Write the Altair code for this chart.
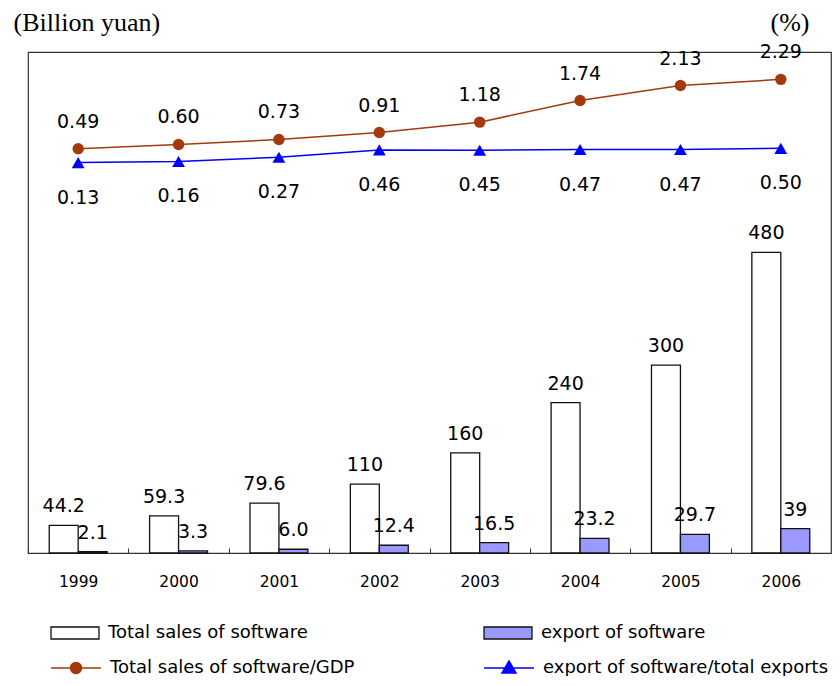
import altair as alt
import pandas as pd

years = ["1999", "2000", "2001", "2002", "2003", "2004", "2005", "2006"]
total_sales = [44.2, 59.3, 79.6, 110, 160, 240, 300, 480]
total_labels = ["44.2", "59.3", "79.6", "110", "160", "240", "300", "480"]
export_sales = [2.1, 3.3, 6.0, 12.4, 16.5, 23.2, 29.7, 39]
export_labels = ["2.1", "3.3", "6.0", "12.4", "16.5", "23.2", "29.7", "39"]
gdp_share = [0.49, 0.60, 0.73, 0.91, 1.18, 1.74, 2.13, 2.29]
export_share = [0.13, 0.16, 0.27, 0.46, 0.45, 0.47, 0.47, 0.50]

bar_series = ["Total sales of software", "export of software"]
line_series = ["Total sales of software/GDP", "export of software/total exports"]
bar_colors = ["#ffffff", "#9999ff"]
line_colors = ["#a33a0d", "#0000ff"]

rows = []
for y, v, l in zip(years, total_sales, total_labels):
    rows.append({"year": y, "series": bar_series[0], "value": v, "label": l})
for y, v, l in zip(years, export_sales, export_labels):
    rows.append({"year": y, "series": bar_series[1], "value": v, "label": l})
bars_df = pd.DataFrame(rows)

rows = []
for y, v in zip(years, gdp_share):
    rows.append({"year": y, "series": line_series[0], "value": v, "label": f"{v:.2f}"})
for y, v in zip(years, export_share):
    rows.append({"year": y, "series": line_series[1], "value": v, "label": f"{v:.2f}"})
lines_df = pd.DataFrame(rows)

W, H = 803, 501
LABEL_FONT = "DejaVu Sans"

x_scale = alt.Scale(domain=years, paddingInner=0.423, paddingOuter=0.2115)
x_axis = alt.Axis(title=None, domain=False, grid=False, labelAngle=0,
                  bandPosition=0.5, tickOffset=-W / 16, labelOffset=W / 16,
                  tickSize=5, offset=-5,
                  tickColor="#333", tickWidth=1, labelFont=LABEL_FONT,
                  labelFontSize=15.5, labelColor="#000", labelPadding=21)
X = alt.X("year:N", scale=x_scale, axis=x_axis, sort=years)

y_left_scale = alt.Scale(domain=[0, 800], nice=False, zero=True)
y_left_axis = alt.Axis(title="(Billion yuan)", labels=False, ticks=False, domain=False,
                       grid=False, titleAngle=0, titleAlign="left", titleBaseline="middle",
                       titleX=-15, titleY=-30, titleFont="Liberation Serif",
                       titleFontSize=26, titleFontWeight="normal", titleColor="#000")
y_right_scale = alt.Scale(domain=[-10, 3], nice=False, zero=False)
y_right_axis = alt.Axis(orient="right", title="(%)", labels=False, ticks=False, domain=False,
                        grid=False, titleAngle=0, titleAlign="left", titleBaseline="middle",
                        titleX=-61, titleY=-30, titleFont="Liberation Serif",
                        titleFontSize=26, titleFontWeight="normal", titleColor="#000")

bar_legend = alt.Legend(title=None, orient="none", legendX=22, legendY=556,
                        direction="horizontal", columns=2, columnPadding=173, padding=0,
                        symbolType="M-1,-0.25H1V0.25H-1Z", symbolSize=2304,
                        symbolStrokeColor="#111", symbolStrokeWidth=1.3, symbolOpacity=1,
                        labelFont=LABEL_FONT, labelFontSize=18, labelColor="#000",
                        labelOffset=8, labelLimit=0)

circle_path = "M-1,0H1M-0.22,0A0.22,0.22,0,1,1,0.22,0A0.22,0.22,0,1,1,-0.22,0Z"
tri_path = "M-1,0H1M0,-0.28L0.28,0.2L-0.28,0.2Z"
line_legend = alt.Legend(title=None, orient="none", legendX=22, legendY=590,
                         direction="horizontal", columns=2, columnPadding=126, padding=0,
                         symbolSize=2500, symbolStrokeWidth=1.5, symbolOpacity=1,
                         symbolType={"expr": f"datum.value === '{line_series[0]}' ? '{circle_path}' : '{tri_path}'"},
                         symbolFillColor={"expr": "scale('stroke', datum.value)"},
                         labelFont=LABEL_FONT, labelFontSize=18, labelColor="#000",
                         labelOffset=8, labelLimit=0)

bars = alt.Chart(bars_df).mark_bar(stroke="#111", strokeWidth=1.3, opacity=1).encode(
    x=X,
    xOffset=alt.XOffset("series:N", scale=alt.Scale(domain=bar_series, paddingInner=0, paddingOuter=0)),
    y=alt.Y("value:Q", scale=y_left_scale, axis=y_left_axis),
    color=alt.Color("series:N", scale=alt.Scale(domain=bar_series, range=bar_colors), legend=bar_legend),
)
bar_text = alt.Chart(bars_df).mark_text(font=LABEL_FONT, fontSize=19, color="#000",
                                        baseline="middle", dy=-19).encode(
    x=X,
    xOffset=alt.XOffset("series:N", scale=alt.Scale(domain=bar_series, paddingInner=0, paddingOuter=0)),
    y=alt.Y("value:Q", scale=y_left_scale, axis=y_left_axis),
    text="label:N",
)

YR = alt.Y("value:Q", scale=y_right_scale, axis=y_right_axis)
lines = alt.Chart(lines_df).mark_line(strokeWidth=1.5).encode(
    x=X, y=YR,
    stroke=alt.Stroke("series:N", scale=alt.Scale(domain=line_series, range=line_colors), legend=line_legend),
)
pts_gdp = alt.Chart(lines_df).transform_filter(
    alt.datum.series == line_series[0]).mark_point(
    filled=True, opacity=1, shape="circle", size=130, color=line_colors[0]).encode(x=X, y=YR)
pts_exp = alt.Chart(lines_df).transform_filter(
    alt.datum.series == line_series[1]).mark_point(
    filled=True, opacity=1, shape="triangle-up", size=165, color=line_colors[1]).encode(x=X, y=YR)
txt_gdp = alt.Chart(lines_df).transform_filter(
    alt.datum.series == line_series[0]).mark_text(
    font=LABEL_FONT, fontSize=19, color="#000", baseline="middle", dy=-27).encode(x=X, y=YR, text="label:N")
txt_exp = alt.Chart(lines_df).transform_filter(
    alt.datum.series == line_series[1]).mark_text(
    font=LABEL_FONT, fontSize=19, color="#000", baseline="middle", dy=35).encode(x=X, y=YR, text="label:N")

left = alt.layer(bars, bar_text)
right = alt.layer(lines, pts_gdp, pts_exp, txt_gdp, txt_exp)

chart = alt.layer(left, right).resolve_scale(y="independent").properties(
    width=W, height=H,
    padding={"left": 20, "top": 44, "right": 1, "bottom": 123},
    autosize=alt.AutoSizeParams(type="none"),
    background="#ffffff",
).configure_view(stroke="#333", strokeWidth=1.2).configure_axis(grid=False)

chart.save("out.html", embed_options={"renderer": "svg", "actions": False})
